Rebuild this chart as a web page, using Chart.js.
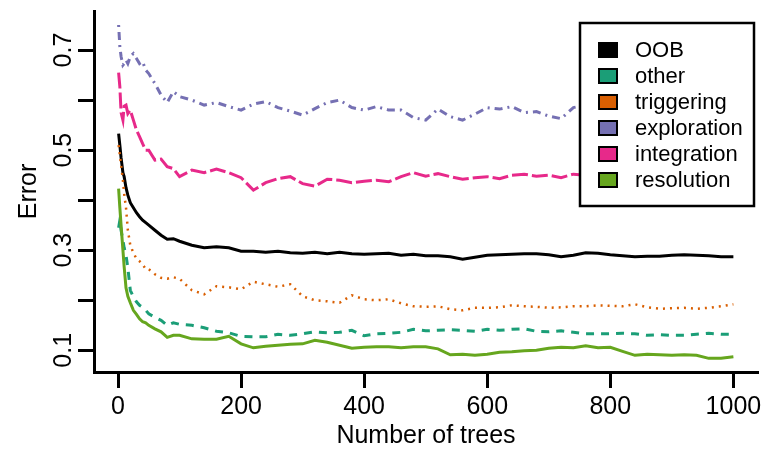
<!DOCTYPE html>
<html>
<head>
<meta charset="utf-8">
<script src="https://cdn.jsdelivr.net/npm/chart.js@4/dist/chart.umd.min.js"></script>
<style>
  body { margin: 0; background: #fff; }
  canvas { display: block; }
</style>
</head>
<body>
<canvas id="errChart" width="774" height="449"></canvas>
<script>
// number of trees at which the error curves were read
const trees = [1, 3, 5, 8, 10, 13, 16, 20, 25, 30, 35, 40, 45, 50, 60, 70, 80, 90, 100,
  120, 140, 160, 180, 200, 220, 240, 260, 280, 300, 320, 340, 360, 380, 400,
  420, 440, 460, 480, 500, 520, 540, 560, 580, 600, 620, 640, 660, 680, 700,
  720, 740, 760, 780, 800, 820, 840, 860, 880, 900, 920, 940, 960, 980, 1000];

const seriesNames = ['OOB', 'other', 'triggering', 'exploration', 'integration', 'resolution'];

const oob = [0.533, 0.51, 0.485, 0.455, 0.447, 0.425, 0.41, 0.395, 0.385, 0.375, 0.367, 0.36, 0.355, 0.35, 0.34, 0.33, 0.322, 0.323, 0.318,
  0.31, 0.305, 0.307, 0.305, 0.298, 0.298, 0.296, 0.298, 0.295, 0.294, 0.296, 0.293, 0.296, 0.293, 0.292,
  0.293, 0.294, 0.29, 0.292, 0.289, 0.289, 0.287, 0.282, 0.286, 0.29, 0.291, 0.292, 0.293, 0.293, 0.291,
  0.287, 0.29, 0.295, 0.294, 0.291, 0.289, 0.287, 0.288, 0.288, 0.29, 0.291, 0.29, 0.289, 0.287, 0.287];

const other = [0.345, 0.36, 0.34, 0.32, 0.305, 0.29, 0.265, 0.22, 0.207, 0.197, 0.19, 0.186, 0.18, 0.173, 0.166, 0.16, 0.15, 0.155, 0.152,
  0.15, 0.145, 0.138, 0.135, 0.128, 0.127, 0.127, 0.132, 0.13, 0.133, 0.137, 0.135, 0.136, 0.14, 0.129,
  0.133, 0.134, 0.136, 0.142, 0.139, 0.14, 0.141, 0.14, 0.138, 0.142, 0.14, 0.142, 0.143, 0.138, 0.137,
  0.139, 0.136, 0.133, 0.133, 0.133, 0.134, 0.133, 0.13, 0.131, 0.13, 0.13, 0.132, 0.134, 0.132, 0.132];

const triggering = [0.51, 0.49, 0.47, 0.44, 0.413, 0.385, 0.34, 0.31, 0.295, 0.283, 0.278, 0.272, 0.262, 0.262, 0.252, 0.245, 0.243, 0.246, 0.243,
  0.22, 0.212, 0.228, 0.226, 0.222, 0.237, 0.232, 0.227, 0.232, 0.208, 0.2, 0.198, 0.195, 0.21, 0.202,
  0.2, 0.202, 0.194, 0.188, 0.187, 0.188, 0.182, 0.18, 0.185, 0.185, 0.186, 0.19, 0.188, 0.187, 0.185,
  0.186, 0.188, 0.188, 0.19, 0.189, 0.188, 0.192, 0.186, 0.183, 0.184, 0.185, 0.183, 0.185, 0.188, 0.192];

// exploration and integration run behind the legend after ~760 trees
const exploration = [0.75, 0.707, 0.687, 0.67, 0.673, 0.68, 0.673, 0.687, 0.693, 0.683, 0.673, 0.677, 0.66, 0.653, 0.633, 0.61, 0.595, 0.617, 0.607,
  0.6, 0.59, 0.595, 0.587, 0.58, 0.592, 0.597, 0.585, 0.578, 0.57, 0.583, 0.595, 0.6, 0.585, 0.58,
  0.587, 0.58, 0.58, 0.565, 0.56, 0.582, 0.567, 0.56, 0.572, 0.585, 0.582, 0.587, 0.575, 0.577, 0.568,
  0.563, 0.585, 0.59, null, null, null, null, null, null, null, null, null, null, null, null];

const integration = [0.655, 0.627, 0.575, 0.56, 0.588, 0.59, 0.573, 0.58, 0.56, 0.54, 0.527, 0.513, 0.5, 0.5, 0.48, 0.482, 0.467, 0.463, 0.447,
  0.46, 0.455, 0.462, 0.455, 0.445, 0.42, 0.435, 0.443, 0.447, 0.433, 0.428, 0.442, 0.44, 0.435, 0.438,
  0.44, 0.437, 0.447, 0.455, 0.448, 0.453, 0.447, 0.442, 0.445, 0.447, 0.443, 0.45, 0.452, 0.448, 0.45,
  0.445, 0.452, 0.45, null, null, null, null, null, null, null, null, null, null, null, null];

const resolution = [0.423, 0.385, 0.35, 0.3, 0.267, 0.225, 0.208, 0.195, 0.18, 0.172, 0.163, 0.157, 0.155, 0.15, 0.143, 0.137, 0.126, 0.13, 0.13,
  0.123, 0.122, 0.122, 0.128, 0.113, 0.105, 0.108, 0.11, 0.112, 0.113, 0.12, 0.116, 0.11, 0.104, 0.106,
  0.107, 0.107, 0.105, 0.107, 0.107, 0.103, 0.091, 0.092, 0.09, 0.092, 0.096, 0.097, 0.099, 0.1, 0.104,
  0.106, 0.105, 0.109, 0.105, 0.106, 0.098, 0.09, 0.092, 0.091, 0.09, 0.091, 0.09, 0.084, 0.084, 0.087];

const xTickValues = [0, 200, 400, 600, 800, 1000];
const xTickLabels = ['0', '200', '400', '600', '800', '1000'];
const yTickValues = [0.1, 0.2, 0.3, 0.4, 0.5, 0.6, 0.7];
const yTickLabels = ['0.1', '', '0.3', '', '0.5', '', '0.7'];

const seriesValues = [oob, other, triggering, exploration, integration, resolution];
const seriesColors = ['#000000', '#1B9E77', '#D95F02', '#7570B3', '#E7298A', '#66A61E'];
const seriesDashes = [[], [8, 7], [2, 5], [2, 5, 8, 5], [16, 4], []];

const FONT = 'Liberation Sans, Arial, sans-serif';

function toPoints(values) {
    const pts = [];
    values.forEach(function(v, i) {
        if (v !== null) pts.push({ x: trees[i], y: v });
    });
    return pts;
}

// legend box drawn inside the plot, like R's legend()
const boxLegend = {
    id: 'boxLegend',
    afterDraw(chart) {
        const ctx = chart.ctx;
        const area = chart.chartArea;
        const right = area.right - 4;
        const left = right - 174;
        const top = area.top + 12;
        const height = 183;

        ctx.save();
        ctx.fillStyle = '#fff';
        ctx.fillRect(left, top, right - left, height);
        ctx.lineWidth = 2.5;
        ctx.strokeStyle = '#000';
        ctx.strokeRect(left, top, right - left, height);

        ctx.font = '22px ' + FONT;
        ctx.textBaseline = 'middle';
        ctx.textAlign = 'left';
        seriesNames.forEach(function(name, i) {
            const cy = top + 27 + i * 26;
            ctx.fillStyle = seriesColors[i];
            ctx.fillRect(left + 19, cy - 7, 18, 14);
            ctx.lineWidth = 2;
            ctx.strokeStyle = '#000';
            ctx.strokeRect(left + 19, cy - 7, 18, 14);
            ctx.fillStyle = '#000';
            ctx.fillText(name, left + 55, cy + 1);
        });
        ctx.restore();
    }
};

function createErrorChart() {
    const ctx = document.getElementById('errChart').getContext('2d');

    const datasets = seriesNames.map(function(name, i) {
        return {
            label: name,
            data: toPoints(seriesValues[i]),
            borderColor: seriesColors[i],
            borderWidth: i === 2 ? 2.5 : 3,
            borderDash: seriesDashes[i],
            pointRadius: 0,
            tension: 0,
            fill: false,
            order: seriesNames.length - i
        };
    });

    new Chart(ctx, {
        type: 'line',
        data: { datasets: datasets },
        plugins: [boxLegend],
        options: {
            responsive: false,
            animation: false,
            layout: { padding: { top: 11, right: 16, left: 0, bottom: 0 } },
            plugins: {
                legend: { display: false },
                tooltip: { enabled: false }
            },
            scales: {
                x: {
                    type: 'linear',
                    min: -39,
                    max: 1040,
                    afterBuildTicks: function(scale) {
                        scale.ticks = xTickValues.map(function(v) { return { value: v }; });
                    },
                    afterFit: function(scale) { scale.height = 77; },
                    grid: {
                        drawOnChartArea: false,
                        drawTicks: true,
                        tickLength: 16,
                        tickWidth: 3,
                        tickColor: '#000'
                    },
                    border: { display: true, color: '#000', width: 3 },
                    ticks: {
                        autoSkip: false,
                        maxRotation: 0,
                        padding: 7,
                        color: '#000',
                        font: { family: FONT, size: 25, lineHeight: 1 },
                        callback: function(value) {
                            const k = xTickValues.indexOf(value);
                            return k >= 0 ? xTickLabels[k] : '';
                        }
                    },
                    title: {
                        display: true,
                        text: 'Number of trees',
                        color: '#000',
                        font: { family: FONT, size: 25, lineHeight: 1 },
                        padding: { top: 0, bottom: 0 }
                    }
                },
                y: {
                    type: 'linear',
                    min: 0.0567,
                    max: 0.778,
                    afterBuildTicks: function(scale) {
                        scale.ticks = yTickValues.map(function(v) { return { value: v }; });
                    },
                    afterFit: function(scale) { scale.width = 94; },
                    grid: {
                        drawOnChartArea: false,
                        drawTicks: true,
                        tickLength: 16,
                        tickWidth: 3,
                        tickColor: '#000'
                    },
                    border: { display: true, color: '#000', width: 3 },
                    ticks: {
                        autoSkip: false,
                        minRotation: 90,
                        maxRotation: 90,
                        crossAlign: 'center',
                        padding: -3,
                        color: '#000',
                        font: { family: FONT, size: 25, lineHeight: 1 },
                        callback: function(value, index) {
                            return yTickLabels[index] || '';
                        }
                    },
                    title: {
                        display: true,
                        text: 'Error',
                        color: '#000',
                        font: { family: FONT, size: 25, lineHeight: 1 },
                        padding: { top: 17, bottom: 0 }
                    }
                }
            }
        }
    });
}

document.addEventListener('DOMContentLoaded', function() {
    createErrorChart();
});
</script>
</body>
</html>
